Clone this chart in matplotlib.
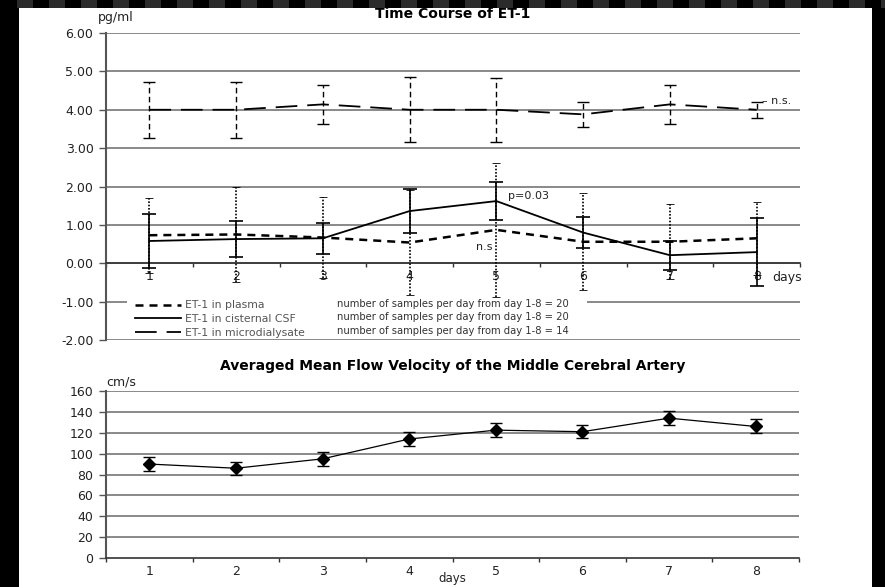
import matplotlib
matplotlib.use('Agg')
import matplotlib.pyplot as plt
from matplotlib.patches import Rectangle
import numpy as np

# -------------------------- data --------------------------
days = [1, 2, 3, 4, 5, 6, 7, 8]

micro_mean = [4.00, 4.00, 4.14, 4.00, 4.00, 3.88, 4.14, 4.00]
micro_err = [0.73, 0.73, 0.50, 0.85, 0.84, 0.33, 0.51, 0.21]

csf_mean = [0.58, 0.63, 0.65, 1.36, 1.62, 0.80, 0.21, 0.29]
csf_err = [0.70, 0.48, 0.41, 0.58, 0.50, 0.40, 0.38, 0.88]

plasma_mean = [0.73, 0.75, 0.67, 0.54, 0.87, 0.56, 0.56, 0.65]
plasma_err = [0.98, 1.23, 1.06, 1.38, 1.75, 1.26, 0.98, 0.95]

series_labels = ['ET-1 in plasma', 'ET-1 in cisternal CSF', 'ET-1 in microdialysate']
sample_notes = ['number of samples per day from day 1-8 = 20',
                'number of samples per day from day 1-8 = 20',
                'number of samples per day from day 1-8 = 14']

mfv_mean = [90, 86, 95, 114, 122.5, 121, 134, 126]
mfv_err = [6.5, 6.4, 6.4, 6.4, 6.4, 6.4, 6.4, 6.7]

# -------------------------- figure / frame --------------------------
W, H = 885, 587
fig = plt.figure(figsize=(W / 100, H / 100), dpi=100)
fig.patch.set_facecolor('black')
fig.add_artist(Rectangle((19 / W, 0), (872 - 19) / W, (H - 8) / H, transform=fig.transFigure,
                         facecolor='white', edgecolor='none', zorder=-2))
for x0 in range(17, W, 32):  # film strip band on top
    fig.add_artist(Rectangle((x0 / W, (H - 8) / H), 16 / W, 8 / H, transform=fig.transFigure,
                             facecolor='#2b2b2b', edgecolor='none', zorder=-1))

grid_c = '#6a6a6a'
txt_c = '#222222'


def px_axes(x0, x1, ytop, ybot):
    return fig.add_axes([x0 / W, (H - ybot) / H, (x1 - x0) / W, (ybot - ytop) / H])


def style_cat_axis(ax):
    ax.set_xlim(0.5, 8.5)
    ax.set_facecolor('none')
    ax.spines['top'].set_visible(False)
    ax.spines['right'].set_visible(False)
    ax.spines['left'].set_color('#555555')
    ax.spines['left'].set_linewidth(1.5)
    ax.spines['bottom'].set_color('#333333')
    ax.spines['bottom'].set_linewidth(1.2)
    ax.set_xticks(np.arange(0.5, 9, 1))
    ax.set_xticklabels([])
    ax.set_xticks(days, minor=True)
    ax.set_xticklabels([str(d) for d in days], minor=True)
    ax.tick_params(axis='x', which='major', length=3, width=1, color='#333333')
    ax.tick_params(axis='x', which='minor', length=0, labelsize=9, labelcolor=txt_c, pad=5)
    ax.tick_params(axis='y', length=5, width=1, color='#555555', labelsize=9, labelcolor=txt_c, pad=4)


# -------------------------- top: Time Course of ET-1 --------------------------
ax = px_axes(106, 800, 33, 340)
style_cat_axis(ax)
ax.set_ylim(-2, 6)
ax.set_yticks(np.arange(-2, 7, 1))
ax.set_yticklabels(['%.2f' % v for v in np.arange(-2, 7, 1)])
ax.spines['bottom'].set_position(('data', 0))
for v in np.arange(-2, 7, 1):
    ax.axhline(v, color=grid_c, lw=1.1, zorder=1)

# white box behind the legend hides the -1 gridline
ax.add_patch(Rectangle((0.74, -1.97), 5.3, 1.08, facecolor='white', edgecolor='none', zorder=1.5))

micro = ax.errorbar(days, micro_mean, yerr=micro_err, color='black', lw=1.3, dashes=(12, 5.5),
                    elinewidth=1.0, capsize=4, capthick=1.0, zorder=3)
micro[2][0].set_linestyle((0, (4, 2.5)))

csf = ax.errorbar(days, csf_mean, yerr=csf_err, color='black', lw=1.3,
                  elinewidth=1.2, capsize=5, capthick=1.2, zorder=4)

plasma = ax.errorbar(days, plasma_mean, yerr=plasma_err, color='black', lw=1.8, dashes=(3.2, 2.4),
                     elinewidth=1.2, capsize=3, capthick=0.6, zorder=3)
plasma[2][0].set_linestyle((0, (1, 1)))
for cl in plasma[1]:
    cl.set_color('#777777')

for tl in ax.get_xticklabels(minor=True):
    tl.set_bbox(dict(facecolor='white', edgecolor='none', pad=0.3))

ax.text(8.18, -0.36, 'days', fontsize=9, color=txt_c, va='center', ha='left')
ax.text(5.13, 1.74, 'p=0.03', fontsize=8, color=txt_c, va='center', ha='left')
ax.text(4.95, 0.42, 'n.s', fontsize=8, color=txt_c, va='center', ha='right')
ax.text(8.06, 4.23, '\u2013 n.s.', fontsize=8, color=txt_c, va='center', ha='left')

leg = ax.legend([plasma[0], csf[0], micro[0]], series_labels, loc='upper left',
                bbox_to_anchor=(0.03, 0.157), frameon=False, fontsize=7.8, labelcolor='#555555',
                handlelength=4.2, handletextpad=0.4, labelspacing=0.33, borderpad=0.3)
leg.set_zorder(5)
for i, note in enumerate(sample_notes):
    ax.text(3.16, -1.05 - i * 0.355, note, fontsize=7.2, color='#333333', va='center', ha='left', zorder=5)

ax.set_title('Time Course of ET-1', fontsize=10, fontweight='bold', color='black', pad=11)
ax.text(-0.012, 1.052, 'pg/ml', transform=ax.transAxes, fontsize=9, color=txt_c, ha='left', va='center')

# -------------------------- bottom: Averaged Mean Flow Velocity --------------------------
bx = px_axes(106, 799, 391, 558)
style_cat_axis(bx)
bx.set_ylim(0, 160)
bx.set_yticks(np.arange(0, 161, 20))
for v in np.arange(20, 161, 20):
    bx.axhline(v, color=grid_c, lw=1.1, zorder=1)
bx.errorbar(days, mfv_mean, yerr=mfv_err, color='black', lw=0.9, marker='D', markersize=6.5,
            elinewidth=1.0, capsize=4, capthick=1.0, zorder=3)
bx.set_xlabel('days', fontsize=8.5, color=txt_c)
bx.xaxis.set_label_coords(0.5, -0.125)
bx.xaxis.label.set_va('center')
bx.set_title('Averaged Mean Flow Velocity of the Middle Cerebral Artery', fontsize=10,
             fontweight='bold', color='black', pad=15)
bx.text(0.0, 1.055, 'cm/s', transform=bx.transAxes, fontsize=9, color=txt_c, ha='left', va='center')

fig.savefig('out.png', dpi=100, facecolor=fig.get_facecolor())
